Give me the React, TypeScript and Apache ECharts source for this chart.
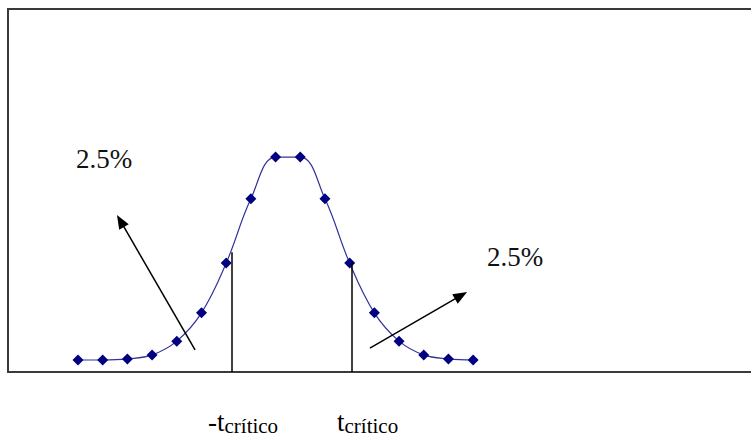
import React, { useEffect, useRef } from "react";
import * as echarts from "echarts";

// t values (x positions) and curve heights (percent of plot height)
const tValues = [-8, -7, -6, -5, -4, -3, -2, -1, 0, 1, 2, 3, 4, 5, 6, 7, 8];
const density = [3.3, 3.3, 3.6, 4.7, 8.5, 16.3, 30.0, 47.7, 59.2, 59.2, 47.7, 30.0, 16.3, 8.5, 4.7, 3.6, 3.3];

// critical lines: [t, top height]
const criticalLines = [
  [-1.77, 33],
  [3.1, 30.3],
];

// arrows: [fromT, fromY, toT, toY]
const arrows = [
  [-3.26, 6.1, -6.28, 41.6],
  [3.82, 6.6, 7.51, 21.1],
];

const tailLabel = "2.5%";
const critLabels = ["-t", "t"];
const critSub = "crítico";

const SERIF = "Liberation Serif";

export default function App() {
  const ref = useRef<HTMLDivElement>(null);
  useEffect(() => {
    document.body.style.margin = "0";
    const chart = echarts.init(ref.current!, null, { renderer: "svg" });
    const data = tValues.map((t, i) => [t, density[i]]);
    const markLines: any[] = [];
    criticalLines.forEach(([t, top]) => {
      markLines.push([
        { coord: [t, top], symbol: "none" },
        { coord: [t, 0], symbol: "none" },
      ]);
    });
    arrows.forEach(([x1, y1, x2, y2]) => {
      markLines.push([
        { coord: [x1, y1], symbol: "none" },
        { coord: [x2, y2], symbol: "triangle", symbolSize: [11, 14] },
      ]);
    });
    const richLabel = (prefix: string) => ({
      text: `{m|${prefix}}{s|${critSub}}`,
      fill: "#000",
      font: `27px ${SERIF}`,
      rich: {
        m: { fontSize: 27, fontFamily: SERIF, lineHeight: 30, verticalAlign: "bottom", padding: [0, 0, 1, 0], fill: "#000" },
        s: { fontSize: 21, fontFamily: SERIF, lineHeight: 24, verticalAlign: "bottom", fill: "#000" },
      },
    });
    chart.setOption({
      animation: false,
      grid: {
        left: 8,
        top: 9,
        right: 0,
        bottom: 65,
        show: false,
      },
      xAxis: {
        type: "value",
        min: -10.834,
        max: 19.25,
        show: false,
        splitLine: { show: false },
      },
      yAxis: {
        type: "value",
        min: 0,
        max: 100,
        show: false,
        splitLine: { show: false },
      },
      series: [
        {
          type: "line",
          data,
          smooth: 0.4,
          symbol: "diamond",
          symbolSize: 11,
          itemStyle: { color: "#000080" },
          lineStyle: { color: "#33339a", width: 1.2 },
          markLine: {
            silent: true,
            symbol: "none",
            label: { show: false },
            lineStyle: { color: "#000", width: 1.5, type: "solid" },
            data: markLines,
          },
        },
      ],
      graphic: [
        {
          type: "rect",
          silent: true,
          z: -1,
          shape: { x: 8, y: 9, width: 800, height: 363 },
          style: { fill: "none", stroke: "#3a3a3a", lineWidth: 2 },
        },
        {
          type: "text",
          left: 76,
          top: 145,
          style: { text: tailLabel, font: `27px ${SERIF}`, fill: "#111" },
        },
        {
          type: "text",
          left: 487,
          top: 243,
          style: { text: tailLabel, font: `27px ${SERIF}`, fill: "#111" },
        },
        {
          type: "text",
          left: 208,
          top: 408,
          style: richLabel(critLabels[0]),
        },
        {
          type: "text",
          left: 337,
          top: 408,
          style: richLabel(critLabels[1]),
        },
      ],
    });
    return () => chart.dispose();
  }, []);
  return (
    <div
      ref={ref}
      style={{ position: "fixed", left: 0, top: 0, width: 751, height: 437, background: "#fff" }}
    />
  );
}
